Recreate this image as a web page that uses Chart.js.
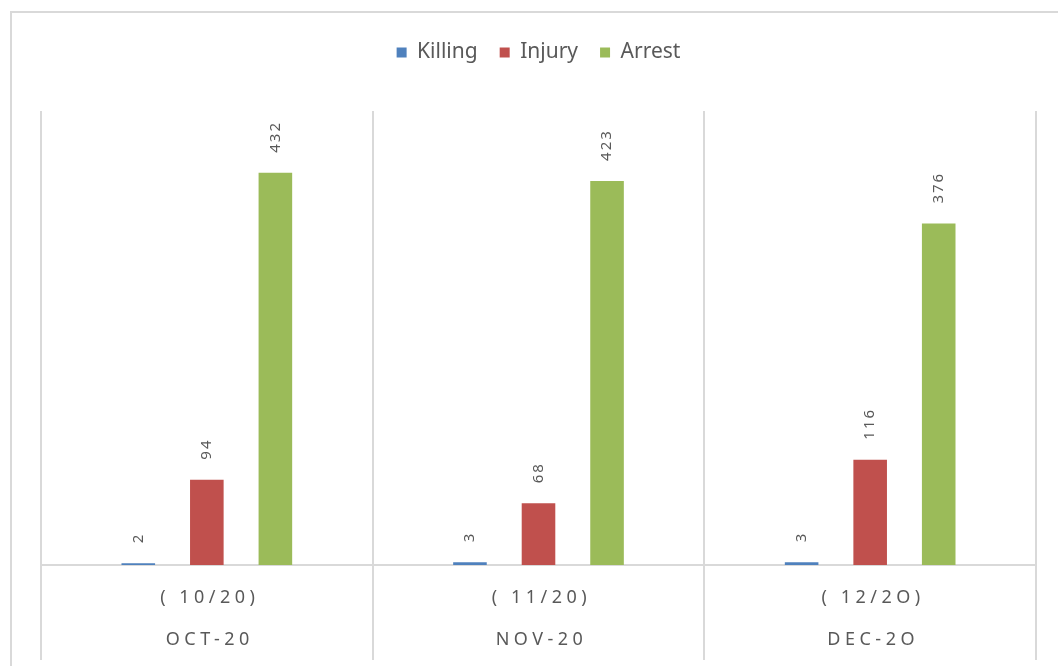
<!DOCTYPE html>
<html lang="en">
<head>
    <meta charset="UTF-8">
    <title>Killing / Injury / Arrest</title>
    <script src="https://cdn.jsdelivr.net/npm/chart.js"></script>
    <style>
        body {
            margin: 0;
            background-color: #fff;
        }
        .wrap {
            position: relative;
            width: 1058px;
            height: 666px;
            overflow: hidden;
        }
        .frame {
            position: absolute;
            left: 10px;
            top: 11px;
            width: 1100px;
            height: 700px;
            border: 2px solid #d9d9d9;
            pointer-events: none;
        }
        canvas {
            position: absolute;
            left: 0;
            top: 0;
        }
    </style>
</head>
<body>
    <div class="wrap">
        <div class="frame"></div>
        <canvas id="chart" width="1058" height="666"></canvas>
    </div>

    <script>
        // data
        const months = ['OCT-20', 'NOV-20', 'DEC-2O'];
        const periods = ['( 10/20)', '( 11/20)', '( 12/2O)'];
        const killing = [2, 3, 3];
        const injury = [94, 68, 116];
        const arrest = [432, 423, 376];

        const grey = '#595959';
        const lineGrey = '#d9d9d9';
        const fontFamily = '"Noto Sans", "Open Sans", sans-serif';

        // make room between legend and plot
        const legendGap = {
            id: 'legendGap',
            beforeInit(chart) {
                const fit = chart.legend.fit;
                chart.legend.fit = function () {
                    fit.call(this);
                    this.height += 38;
                };
            }
        };

        // rotated value labels above each bar + two line category labels
        const labelsPlugin = {
            id: 'labelsPlugin',
            afterDatasetsDraw(chart) {
                const ctx = chart.ctx;
                ctx.save();
                ctx.fillStyle = grey;
                ctx.font = '15px ' + fontFamily;
                ctx.letterSpacing = '2px';
                ctx.textAlign = 'left';
                ctx.textBaseline = 'middle';
                chart.data.datasets.forEach((ds, di) => {
                    const meta = chart.getDatasetMeta(di);
                    meta.data.forEach((bar, i) => {
                        ctx.save();
                        ctx.translate(bar.x, bar.y - 20);
                        ctx.rotate(-Math.PI / 2);
                        ctx.fillText(String(ds.data[i]), 0, 0);
                        ctx.restore();
                    });
                });
                ctx.restore();
            },
            afterDraw(chart) {
                const ctx = chart.ctx;
                const x = chart.scales.x;
                ctx.save();
                ctx.fillStyle = grey;
                ctx.font = '18px ' + fontFamily;
                ctx.letterSpacing = '4.5px';
                ctx.textAlign = 'center';
                ctx.textBaseline = 'middle';
                months.forEach((m, i) => {
                    const px = x.getPixelForValue(i) + 3;
                    ctx.fillText(periods[i], px, chart.chartArea.bottom + 33);
                    ctx.fillText(m, px, chart.chartArea.bottom + 75);
                });
                ctx.restore();
            }
        };

        const ctx = document.getElementById('chart').getContext('2d');
        new Chart(ctx, {
            type: 'bar',
            data: {
                labels: months,
                datasets: [
                    { label: 'Killing', data: killing, backgroundColor: '#4f81bd' },
                    { label: 'Injury', data: injury, backgroundColor: '#c0504d' },
                    { label: 'Arrest', data: arrest, backgroundColor: '#9bbb59' }
                ]
            },
            options: {
                responsive: false,
                animation: false,
                layout: {
                    padding: { top: 20, left: 41, right: 22, bottom: 6 }
                },
                datasets: {
                    bar: {
                        categoryPercentage: 0.62,
                        barPercentage: 0.49
                    }
                },
                plugins: {
                    legend: {
                        position: 'top',
                        labels: {
                            boxWidth: 10,
                            boxHeight: 10,
                            padding: 22,
                            color: grey,
                            font: { size: 21, family: fontFamily }
                        }
                    },
                    tooltip: { enabled: false }
                },
                scales: {
                    x: {
                        grid: {
                            color: lineGrey,
                            lineWidth: 2,
                            tickLength: 95
                        },
                        border: { color: lineGrey, width: 2 },
                        ticks: { display: false }
                    },
                    y: {
                        display: false,
                        min: 0,
                        max: 500
                    }
                }
            },
            plugins: [legendGap, labelsPlugin]
        });
    </script>
</body>
</html>
